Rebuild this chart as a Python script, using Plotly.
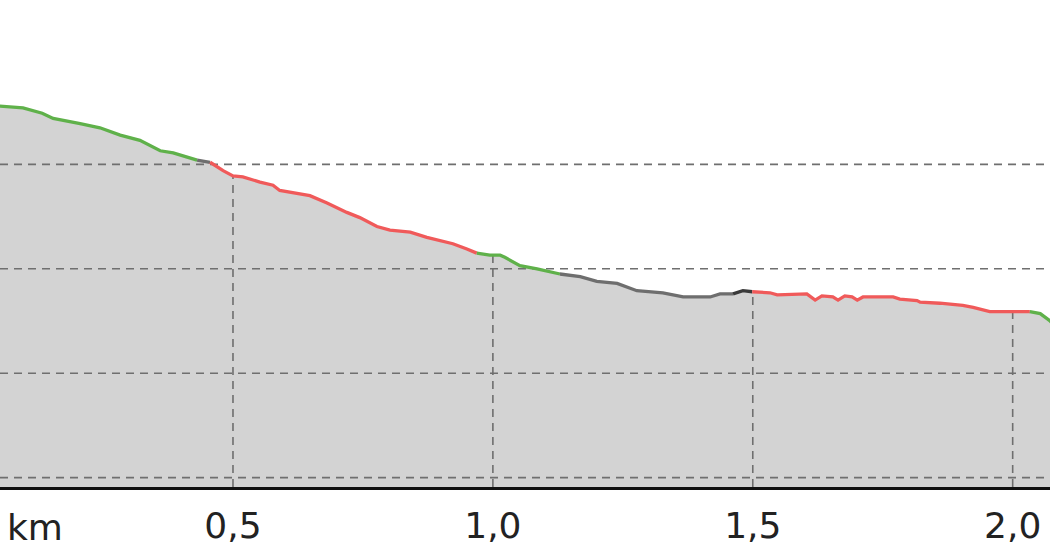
"""
Elevation profile of a descending track, coloured by grade class.
"""

import numpy as np
import plotly.graph_objects as go

# distance along the track (km) and elevation (m)
distance_km = [
    0.046, 0.096, 0.133, 0.154, 0.206, 0.244, 0.283, 0.321, 0.360, 0.385,
    0.431, 0.456, 0.481, 0.500, 0.519, 0.552, 0.577, 0.590, 0.629, 0.648,
    0.681, 0.719, 0.744, 0.777, 0.802, 0.841, 0.873, 0.923, 0.950, 0.969,
    0.994, 1.014, 1.023, 1.052, 1.085, 1.129, 1.168, 1.200, 1.239, 1.277,
    1.327, 1.366, 1.418, 1.437, 1.462, 1.481, 1.499, 1.533, 1.547, 1.604,
    1.620, 1.633, 1.654, 1.664, 1.677, 1.691, 1.701, 1.712, 1.770, 1.783,
    1.816, 1.822, 1.860, 1.904, 1.924, 1.956, 2.033, 2.053, 2.072, 2.083,
]
elevation_m = [
    155.6, 155.4, 154.9, 154.4, 153.9, 153.5, 152.8, 152.3, 151.3, 151.1,
    150.4, 150.2, 149.4, 148.9, 148.8, 148.3, 148.0, 147.5, 147.2, 147.0,
    146.3, 145.4, 144.9, 144.05, 143.7, 143.5, 143.0, 142.4, 141.9, 141.5,
    141.3, 141.3, 141.1, 140.3, 140.0, 139.5, 139.25, 138.8, 138.6, 137.9,
    137.7, 137.3, 137.3, 137.6, 137.6, 137.9, 137.8, 137.7, 137.5, 137.6,
    137.0, 137.4, 137.3, 137.0, 137.4, 137.3, 137.0, 137.3, 137.3, 137.1,
    136.95, 136.8, 136.7, 136.5, 136.3, 135.9, 135.9, 135.7, 135.0, 134.45,
]
# class of the segment that starts at each point (last entry unused)
segment_class = (
    ['green'] * 10 + ['flat'] + ['red'] * 18 + ['green'] * 6 + ['flat'] * 9
    + ['dark'] * 2 + ['red'] * 20 + ['green'] * 4
)

x_ticks = [0.5, 1.0, 1.5, 2.0]
y_grid = [120, 130, 140, 150]

x_range = [0.0518, 2.0718]
y_range = [119.1, 165.74]

class_colors = {
    'green': '#5fb14a',
    'red': '#f05a5a',
    'flat': '#6e6e6e',
    'dark': '#3a3a3a',
}
GRID_COLOR = '#6f6f6f'
GRID_DASH = '8px,6px'

fig = go.Figure()

# gray area under the profile
fig.add_trace(go.Scatter(
    x=distance_km,
    y=elevation_m,
    mode='lines',
    fill='tozeroy',
    fillcolor='#d3d3d3',
    line=dict(width=0),
    hoverinfo='skip',
    showlegend=False,
))

# horizontal grid, full width
hx, hy = [], []
for level in y_grid:
    hx.extend([x_range[0], x_range[1], None])
    hy.extend([level, level, None])
fig.add_trace(go.Scatter(
    x=hx, y=hy, mode='lines',
    line=dict(color=GRID_COLOR, width=1.6, dash=GRID_DASH),
    hoverinfo='skip', showlegend=False,
))

# vertical grid, only under the profile
tops = np.interp(x_ticks, distance_km, elevation_m)
vx, vy = [], []
for tick, top in zip(x_ticks, tops):
    vx.extend([tick, tick, None])
    vy.extend([y_range[0], top, None])
fig.add_trace(go.Scatter(
    x=vx, y=vy, mode='lines',
    line=dict(color=GRID_COLOR, width=1.6, dash=GRID_DASH),
    hoverinfo='skip', showlegend=False,
))

# profile line, one trace per run of the same class
start = 0
n = len(distance_km)
for i in range(1, n):
    if i == n - 1 or segment_class[i] != segment_class[start]:
        fig.add_trace(go.Scatter(
            x=distance_km[start:i + 1],
            y=elevation_m[start:i + 1],
            mode='lines',
            line=dict(color=class_colors[segment_class[start]], width=3.3),
            hoverinfo='skip',
            showlegend=False,
        ))
        start = i

fig.add_annotation(
    text='km', xref='paper', yref='paper', x=0, y=0,
    xanchor='left', yanchor='top', xshift=5, yshift=-18,
    showarrow=False, font=dict(size=36, color='#222'),
)

fig.update_xaxes(
    range=x_range,
    tickvals=x_ticks,
    tickformat='.1f',
    showgrid=False,
    zeroline=False,
    showline=True,
    linecolor='#111',
    linewidth=2.5,
    ticks='',
    ticklabelstandoff=5,
    tickfont=dict(size=36, color='#222'),
)
fig.update_yaxes(
    range=y_range,
    showgrid=False,
    zeroline=False,
    showticklabels=False,
)

fig.update_layout(
    width=1050,
    height=560,
    margin=dict(l=0, r=0, t=0, b=73),
    plot_bgcolor='white',
    paper_bgcolor='white',
    separators=', ',
    font=dict(family='DejaVu Sans', color='#222'),
)

# drop the default page margin so the figure sits flush in the window
fig.write_html(
    'out.html',
    config={'displayModeBar': False},
    post_script="document.body.style.margin='0';document.body.style.overflow='hidden';",
)
